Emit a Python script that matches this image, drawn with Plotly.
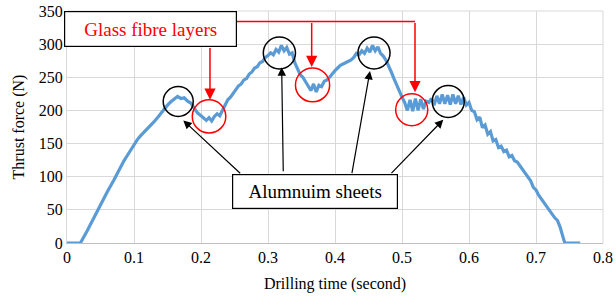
import plotly.graph_objects as go

# Drilling time (s) and thrust force (N)
time_s = [0.0, 0.02, 0.03, 0.04, 0.05, 0.06, 0.07, 0.08, 0.085, 0.09, 0.095, 0.1,
          0.105, 0.11, 0.115, 0.12, 0.125, 0.13, 0.135, 0.14, 0.145, 0.15, 0.155,
          0.16, 0.165, 0.17, 0.175, 0.18, 0.185, 0.19, 0.195, 0.2, 0.204, 0.208,
          0.212, 0.216, 0.22, 0.224, 0.228, 0.232, 0.236, 0.24, 0.244, 0.248,
          0.252, 0.256, 0.26, 0.264, 0.268, 0.272, 0.276, 0.28, 0.284, 0.288,
          0.292, 0.296, 0.3, 0.304, 0.308, 0.312, 0.316, 0.32, 0.324, 0.328,
          0.332, 0.336, 0.34, 0.344, 0.348, 0.352, 0.356, 0.36, 0.364, 0.368,
          0.372, 0.376, 0.38, 0.384, 0.388, 0.392, 0.396, 0.4, 0.404, 0.408,
          0.412, 0.416, 0.42, 0.424, 0.428, 0.432, 0.436, 0.44, 0.444, 0.448,
          0.452, 0.456, 0.46, 0.464, 0.468, 0.472, 0.476, 0.48, 0.484, 0.488,
          0.492, 0.496, 0.5, 0.504, 0.508, 0.512, 0.516, 0.52, 0.524, 0.528,
          0.532, 0.536, 0.54, 0.544, 0.548, 0.552, 0.556, 0.56, 0.564, 0.568,
          0.572, 0.576, 0.58, 0.584, 0.588, 0.592, 0.596, 0.6, 0.604, 0.608,
          0.612, 0.616, 0.62, 0.624, 0.628, 0.632, 0.636, 0.64, 0.644, 0.648,
          0.652, 0.656, 0.66, 0.664, 0.668, 0.672, 0.676, 0.68, 0.684, 0.688,
          0.692, 0.696, 0.7, 0.704, 0.708, 0.712, 0.716, 0.72, 0.724, 0.728,
          0.732, 0.736, 0.74, 0.743, 0.766]
thrust_n = [0, 0, 18, 38, 57, 77, 95, 116, 124, 132, 140, 150,
            156, 162, 167, 172, 177, 183, 189, 196, 203, 208, 213,
            217, 221, 218, 219, 214, 211, 203, 196, 192, 188, 185,
            189, 184, 191, 195, 192, 200, 210, 216, 220, 226,
            232, 237, 240, 246, 248, 255, 258, 264, 266, 272,
            274, 280, 283, 287, 284, 292, 288, 298, 290, 295,
            285, 287, 272, 264, 254, 250, 244, 236, 230, 240,
            228, 238, 236, 244, 246, 250, 256, 260, 264, 268,
            270, 272, 274, 276, 280, 286, 284, 290, 286, 294,
            288, 298, 290, 296, 286, 282, 276, 268, 258, 248,
            238, 228, 220, 212, 200, 216, 199, 218, 200, 217,
            202, 214, 212, 218, 208, 222, 210, 224, 210, 223,
            209, 224, 210, 222, 209, 220, 208, 212, 200, 198,
            186, 190, 174, 178, 164, 168, 154, 156, 144, 146,
            138, 140, 130, 132, 124, 122, 116, 112, 106, 98,
            94, 84, 80, 72, 66, 60, 56, 48, 44, 38,
            34, 24, 10, 0, 0]

x_ticks = [0, 0.1, 0.2, 0.3, 0.4, 0.5, 0.6, 0.7, 0.8]
x_tick_labels = ["0", "0.1", "0.2", "0.3", "0.4", "0.5", "0.6", "0.7", "0.8"]
y_ticks = [0, 50, 100, 150, 200, 250, 300, 350]

FONT = "Liberation Serif, Times New Roman, serif"
BLUE = "#5B9BD5"
RED = "#FF0000"
GRID = "#D9D9D9"

fig = go.Figure()
fig.add_trace(go.Scatter(x=time_s, y=thrust_n, mode="lines",
                         line=dict(color=BLUE, width=3.2), showlegend=False))

# circles: (x0, x1, y0, y1)
red_circles = [(0.187, 0.237, 166, 216), (0.341, 0.392, 213, 264), (0.4906, 0.5384, 177, 225)]
black_circles = [(0.1436, 0.1884, 191, 236), (0.293, 0.341, 262.5, 310.7),
                 (0.4343, 0.4821, 262.5, 310.7), (0.5451, 0.5929, 189.5, 237.7)]
for (x0, x1, y0, y1) in red_circles:
    fig.add_shape(type="circle", xref="x", yref="y", x0=x0, x1=x1, y0=y0, y1=y1,
                  line=dict(color=RED, width=1.5), layer="above")
for (x0, x1, y0, y1) in black_circles:
    fig.add_shape(type="circle", xref="x", yref="y", x0=x0, x1=x1, y0=y0, y1=y1,
                  line=dict(color="black", width=1.5), layer="above")

# red connector line
fig.add_shape(type="line", xref="x", yref="y", x0=0.2533, x1=0.5194, y0=334.3, y1=334.3,
              line=dict(color=RED, width=1.5))

# red arrows: (tail_x, tail_y, tip_x, tip_y)
red_arrows = [(0.2134, 296.6, 0.2134, 216.2), (0.3652, 334.3, 0.3652, 265.5),
              (0.5194, 334.3, 0.5194, 227.5)]
for (tx, ty, hx, hy) in red_arrows:
    fig.add_annotation(x=hx, y=hy, ax=tx, ay=ty, xref="x", yref="y", axref="x", ayref="y",
                       text="", showarrow=True, arrowhead=2, arrowsize=1.5,
                       arrowwidth=1.5, arrowcolor=RED, standoff=0)

black_arrows = [(0.2607, 103.1, 0.1736, 184.9), (0.3228, 106.0, 0.3204, 265.0),
                (0.4249, 103.1, 0.4522, 259.5), (0.4821, 103.1, 0.5616, 186.0)]
for (tx, ty, hx, hy) in black_arrows:
    fig.add_annotation(x=hx, y=hy, ax=tx, ay=ty, xref="x", yref="y", axref="x", ayref="y",
                       text="", showarrow=True, arrowhead=2, arrowsize=1.4,
                       arrowwidth=1.2, arrowcolor="black", standoff=0)

# text boxes
fig.add_annotation(x=0.1252, y=323, xref="x", yref="y", text="Glass fibre layers",
                   showarrow=False, font=dict(family=FONT, size=19, color=RED),
                   bgcolor="white", bordercolor="black", borderwidth=1.2, borderpad=2,
                   width=167, height=30)
fig.add_annotation(x=0.3694, y=77.5, xref="x", yref="y", text="Alumnuim sheets",
                   showarrow=False, font=dict(family=FONT, size=19, color="black"),
                   bgcolor="white", bordercolor="black", borderwidth=1.2, borderpad=2,
                   width=160, height=29)

fig.update_layout(
    width=616, height=297,
    margin=dict(l=67, r=13, t=11, b=54, autoexpand=False),
    paper_bgcolor="white", plot_bgcolor="white",
    font=dict(family=FONT, size=16, color="black"),
    xaxis=dict(range=[0, 0.8], tickvals=x_ticks, ticktext=x_tick_labels, automargin=False,
               showgrid=True, gridcolor=GRID, gridwidth=1, zeroline=False,
               showline=True, linecolor="#BFBFBF", linewidth=1, mirror=False,
               ticks="", tickfont=dict(family=FONT, size=16),
               title=dict(text="Drilling time (second)", font=dict(family=FONT, size=16), standoff=12)),
    yaxis=dict(range=[0, 350], tickvals=y_ticks, automargin=False,
               showgrid=True, gridcolor=GRID, gridwidth=1, zeroline=False,
               showline=True, linecolor=GRID, linewidth=1, mirror=False,
               ticks="", tickfont=dict(family=FONT, size=16),
               title=dict(text="Thrust force (N)", font=dict(family=FONT, size=16), standoff=10)),
)
fig.add_shape(type="line", xref="paper", yref="paper", x0=1, x1=1, y0=0, y1=1,
              line=dict(color=GRID, width=1), layer="below")
fig.add_shape(type="line", xref="paper", yref="paper", x0=0, x1=1, y0=1, y1=1,
              line=dict(color=GRID, width=1), layer="below")

fig.write_html("out.html", config={"displayModeBar": False},
               post_script="document.body.style.margin='0';document.body.style.padding='0';")
